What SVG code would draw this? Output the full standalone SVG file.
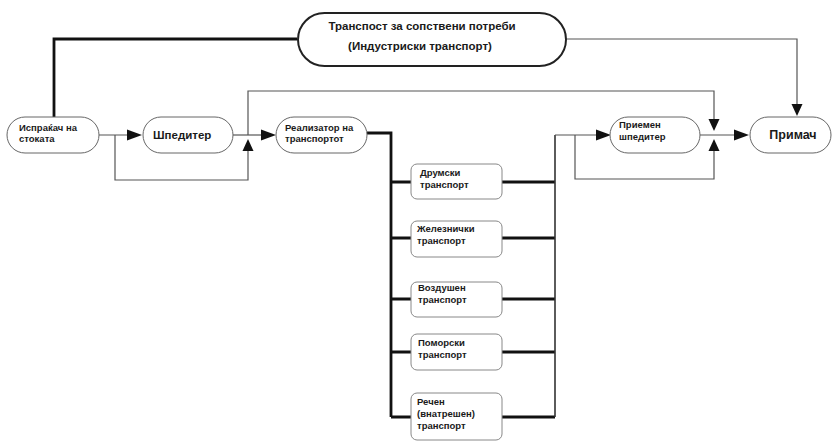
<svg xmlns="http://www.w3.org/2000/svg" width="832" height="442" viewBox="0 0 832 442">
<style>
text{font-family:"Liberation Sans",Arial,sans-serif;font-weight:bold;fill:#1a1a1a}
.pill{fill:#fff;stroke:#666;stroke-width:1}
.box{fill:#fff;stroke:#888;stroke-width:1}
.thin{fill:none;stroke:#555;stroke-width:1.2}
.thick{fill:none;stroke:#111;stroke-width:2.8}
.med{fill:none;stroke:#333;stroke-width:1.6}
.ah{fill:#111}
.s{font-size:9.5px}
</style>
<rect width="832" height="442" fill="#fff"/>
<g id="connectors">
<path class="thick" d="M297,39 H54 V117"/>
<path class="thin" d="M566,39 H797 V108"/>
<path class="thin" d="M99,135 H132"/>
<path class="thin" d="M115,135 V180 H248 V150"/>
<path class="thin" d="M233,135 H262"/>
<path class="thin" d="M248,135 V91 H714 V121"/>
<path class="thick" d="M367,133 H391 V417"/>
<path class="thick" d="M391,182 H411 M391,238 H411 M391,299 H411 M391,352 H411 M391,417 H411"/>
<path class="thick" d="M502,182 H555 M502,238 H555 M502,299 H555 M502,352 H555 M502,417 H555"/>
<path class="med" d="M555,417 V135"/>
<path class="thin" d="M555,135 H598"/>
<path class="thin" d="M575,135 V179 H714 V149"/>
<path class="thin" d="M700,135 H736"/>
<polygon class="ah" points="142,135 127,129.5 127,140.5"/>
<polygon class="ah" points="248,139 242.5,151 253.5,151"/>
<polygon class="ah" points="276,135 261,129.5 261,140.5"/>
<polygon class="ah" points="611,135 596,129.5 596,140.5"/>
<polygon class="ah" points="714,131 708.5,119 719.5,119"/>
<polygon class="ah" points="714,139 708.5,151 719.5,151"/>
<polygon class="ah" points="749,135 734,129.5 734,140.5"/>
<polygon class="ah" points="797,116 791.5,104 802.5,104"/>
</g>
<g id="top">
<rect x="298" y="13" width="268" height="53" rx="26.5" fill="#fff" stroke="#222" stroke-width="2"/>
<text x="422" y="30" font-size="11.5" text-anchor="middle">Транспост за сопствени потреби</text>
<text x="420" y="50" font-size="11.5" text-anchor="middle">(Индустриски транспорт)</text>
</g>
<g id="ispracac">
<rect class="pill" x="7" y="117" width="92" height="36" rx="18"/>
<text class="s" x="19" y="131">Испраќач на</text>
<text class="s" x="19" y="142">стоката</text>
</g>
<g id="spediter">
<rect class="pill" x="143" y="117" width="90" height="36" rx="18"/>
<text x="153" y="139" font-size="11.5">Шпедитер</text>
</g>
<g id="realizator">
<rect class="pill" x="276" y="117" width="91" height="36" rx="18"/>
<text class="s" x="285" y="131">Реализатор на</text>
<text class="s" x="285" y="142">транспортот</text>
</g>
<g id="drumski">
<rect class="box" x="411" y="164" width="91" height="35" rx="6"/>
<text class="s" x="420" y="176">Друмски</text>
<text class="s" x="420" y="188">транспорт</text>
</g>
<g id="zeleznicki">
<rect class="box" x="411" y="221" width="91" height="36" rx="6"/>
<text class="s" x="417" y="232">Железнички</text>
<text class="s" x="417" y="244">транспорт</text>
</g>
<g id="vozdusen">
<rect class="box" x="411" y="282" width="91" height="35" rx="6"/>
<text class="s" x="418" y="291">Воздушен</text>
<text class="s" x="418" y="303">транспорт</text>
</g>
<g id="pomorski">
<rect class="box" x="411" y="334" width="91" height="36" rx="6"/>
<text class="s" x="418" y="346">Поморски</text>
<text class="s" x="418" y="358">транспорт</text>
</g>
<g id="recen">
<rect class="box" x="411" y="393" width="91" height="47" rx="6"/>
<text class="s" x="417" y="405">Речен</text>
<text class="s" x="417" y="417">(внатрешен)</text>
<text class="s" x="417" y="429">транспорт</text>
</g>
<g id="priemen">
<rect class="pill" x="610" y="117" width="90" height="36" rx="18"/>
<text class="s" x="619" y="128">Приемен</text>
<text class="s" x="619" y="140">шпедитер</text>
</g>
<g id="primac">
<rect class="pill" x="750" y="117" width="81" height="36" rx="18"/>
<text x="793" y="139" font-size="12.5" text-anchor="middle">Примач</text>
</g>
</svg>
